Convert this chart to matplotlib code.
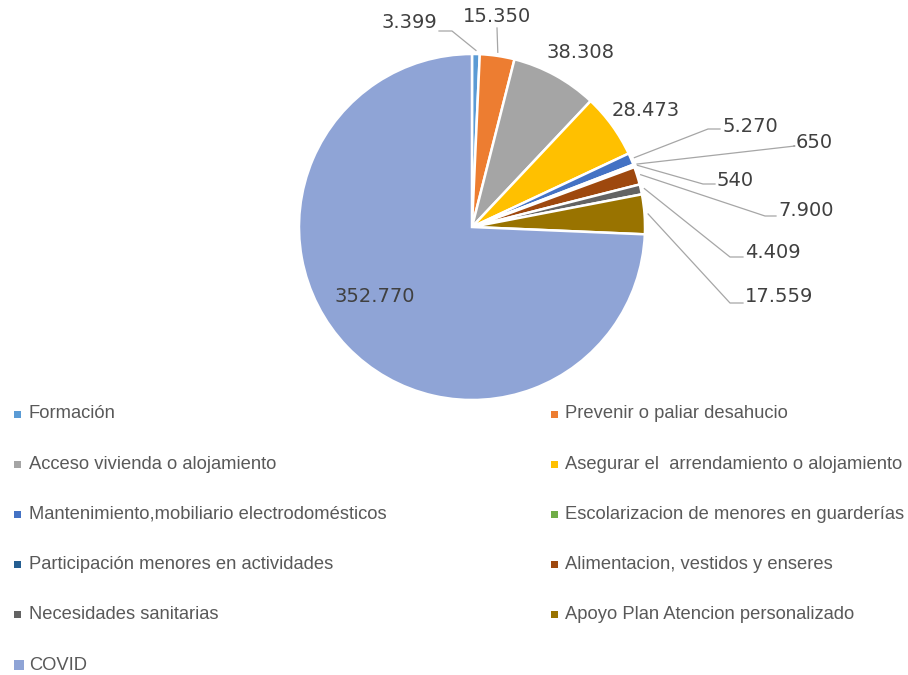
import numpy as np
import matplotlib.pyplot as plt
from matplotlib.patches import Rectangle

W, H = 908, 675

categories = [
    "Formación",
    "Prevenir o paliar desahucio",
    "Acceso vivienda o alojamiento",
    "Asegurar el  arrendamiento o alojamiento",
    "Mantenimiento,mobiliario electrodomésticos",
    "Escolarizacion de menores en guarderías",
    "Participación menores en actividades",
    "Alimentacion, vestidos y enseres",
    "Necesidades sanitarias",
    "Apoyo Plan Atencion personalizado",
    "COVID",
]
values = [3399, 15350, 38308, 28473, 5270, 650, 540, 7900, 4409, 17559, 352770]
value_labels = ["3.399", "15.350", "38.308", "28.473", "5.270", "650",
                "540", "7.900", "4.409", "17.559", "352.770"]
colors = ["#5B9BD5", "#ED7D31", "#A5A5A5", "#FFC000", "#4472C4", "#70AD47",
          "#255E91", "#9E480E", "#636363", "#997300", "#8FA4D6"]

# layout (pixel coordinates, y measured from top)
CX, CY, R = 472, 227, 173
EXPLODE = 0.015

# label placement: (elbow x, elbow y, text x, text y, ha) ; None -> no leader line
label_pos = [
    (452, 31, 437, 22, "right"),
    (497, 28, 497, 16, "center"),
    None,
    None,
    (708, 129, 722, 127, "left"),
    (795, 146, 796, 143, "left"),
    (703, 184, 717, 180, "left"),
    (765, 216, 778, 210, "left"),
    (730, 257, 745, 252, "left"),
    (730, 303, 745, 297, "left"),
    None,
]
free_text = {2: (580, 52), 3: (646, 110), 10: (375, 297)}


def py(y):
    return H - y


fig = plt.figure(figsize=(W / 100, H / 100), dpi=100)
ax = fig.add_axes([0, 0, 1, 1])
ax.set_xlim(0, W)
ax.set_ylim(0, H)
ax.set_aspect("equal")
ax.axis("off")

ax.pie(values, colors=colors, startangle=90, counterclock=False,
       center=(CX, py(CY)), radius=R, explode=[EXPLODE] * len(values),
       wedgeprops=dict(edgecolor="white", linewidth=1.8))
ax.set_xlim(0, W)
ax.set_ylim(0, H)

total = float(sum(values))
cum = np.cumsum([0] + values[:-1])
label_color = "#404040"
for i, v in enumerate(values):
    mid = np.deg2rad(90 - (cum[i] + v / 2) / total * 360)
    if i in free_text:
        tx, ty = free_text[i]
        ax.text(tx, py(ty), value_labels[i], fontsize=14, color=label_color,
                ha="center", va="center")
        continue
    ex, ey, tx, ty, ha = label_pos[i]
    r0 = R * (1 + EXPLODE) + 1
    x0 = CX + r0 * np.cos(mid)
    y0 = py(CY) + r0 * np.sin(mid)
    if ha == "left":
        xs = [x0, ex, tx - 2]
        ys = [y0, py(ey), py(ey)]
    elif ha == "right":
        xs = [x0, ex, tx + 2]
        ys = [y0, py(ey), py(ey)]
    else:
        xs = [x0, ex]
        ys = [y0, py(ey)]
    ax.plot(xs, ys, color="#A6A6A6", linewidth=0.9)
    ax.text(tx, py(ty), value_labels[i], fontsize=14, color=label_color,
            ha=ha, va="center")

# legend, row-major in two columns
col_x = [14, 551]
text_x = [29, 565]
row_y0, row_dy = 414, 50.2
for i, name in enumerate(categories):
    row, col = divmod(i, 2)
    y = row_y0 + row * row_dy
    s = 10 if name == "COVID" else 7
    ax.add_patch(Rectangle((col_x[col], py(y) - s / 2), s, s,
                           facecolor=colors[i], edgecolor="none"))
    ax.text(text_x[col], py(y), name, fontsize=13.2, color="#595959",
            va="center", ha="left", family="Liberation Sans")

fig.savefig("out.png", dpi=100)
